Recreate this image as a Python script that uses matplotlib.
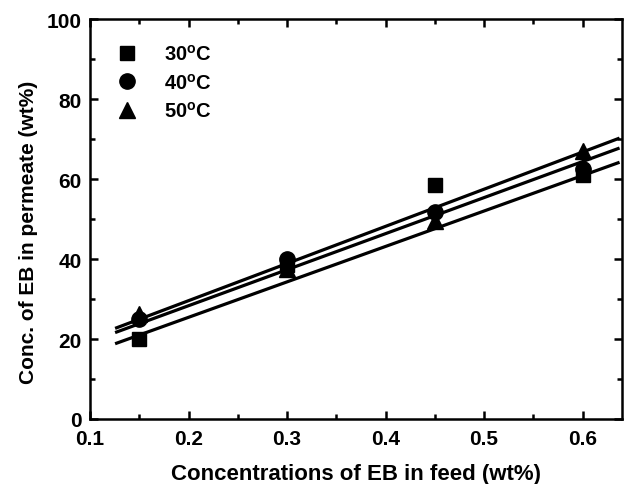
import matplotlib
matplotlib.use("Agg")
import matplotlib.pyplot as plt
import numpy as np
from matplotlib.ticker import MultipleLocator

plt.rcParams['font.family'] = ['Liberation Sans', 'DejaVu Sans']
plt.rcParams['font.weight'] = 'bold'
plt.rcParams['mathtext.fontset'] = 'custom'
plt.rcParams['mathtext.rm'] = 'Liberation Sans:bold'
plt.rcParams['mathtext.bf'] = 'Liberation Sans:bold'

feed = [0.15, 0.30, 0.45, 0.60]
perm_30 = [20.0, 38.5, 58.5, 61.0]
perm_40 = [25.0, 40.0, 51.8, 62.5]
perm_50 = [26.3, 37.5, 49.5, 67.0]

# fitted lines (slope, intercept)
fit_30 = (88.6, 7.7)
fit_40 = (90.1, 10.3)
fit_50 = (92.9, 11.0)
fit_x = [0.127, 0.636]

labels = ["30$^{\\mathrm{o}}$C", "40$^{\\mathrm{o}}$C", "50$^{\\mathrm{o}}$C"]

fig = plt.figure(figsize=(6.26, 4.85), dpi=100)
ax = fig.add_axes([90/626, 65/485, 532/626, 400/485])

xs = np.array(fit_x)
for (m, b) in (fit_30, fit_40, fit_50):
    ax.plot(xs, m*xs + b, color='black', lw=2.3, zorder=2)

ax.plot(feed, perm_30, 's', color='black', ms=10.5, ls='none', label=labels[0], zorder=3)
ax.plot(feed, perm_40, 'o', color='black', ms=11, ls='none', label=labels[1], zorder=3)
ax.plot(feed, perm_50, '^', color='black', ms=11.5, ls='none', label=labels[2], zorder=3)

ax.set_xlim(0.1, 0.64)
ax.set_ylim(0, 100)
ax.xaxis.set_major_locator(MultipleLocator(0.1))
ax.xaxis.set_minor_locator(MultipleLocator(0.05))
ax.yaxis.set_major_locator(MultipleLocator(20))
ax.yaxis.set_minor_locator(MultipleLocator(10))
ax.tick_params(which='both', direction='in', top=True, right=True, width=1.8)
ax.tick_params(which='major', length=6, labelsize=15)
ax.tick_params(axis='x', which='major', pad=7)
ax.tick_params(axis='y', which='major', pad=6)
ax.tick_params(which='minor', length=3.5)
for s in ax.spines.values():
    s.set_linewidth(1.8)
for t in ax.get_xticklabels() + ax.get_yticklabels():
    t.set_fontweight('bold')

ax.set_xlabel("Concentrations of EB in feed (wt%)", fontsize=16, fontweight='bold', labelpad=11)
ax.set_ylabel("Conc. of EB in permeate (wt%)", fontsize=15, fontweight='bold')
ax.yaxis.set_label_coords(-0.098, 0.47)

leg = ax.legend(loc='upper left', frameon=False, fontsize=14.5, handletextpad=1.05,
                labelspacing=0.42, bbox_to_anchor=(0.008, 0.983), handlelength=1.5)

fig.savefig("out.png", dpi=100)
